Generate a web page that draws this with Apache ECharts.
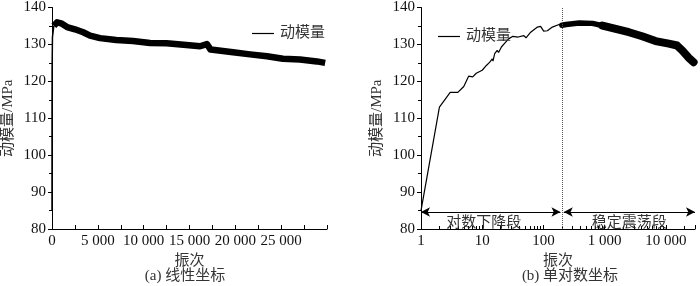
<!DOCTYPE html>
<html>
<head>
<meta charset="utf-8">
<script src="https://cdn.jsdelivr.net/npm/echarts@6/dist/echarts.min.js"></script>
<style>
html, body { margin: 0; padding: 0; background: #fff; }
#chart01 { width: 700px; height: 286px; }
</style>
</head>
<body>
<div id="chart01"></div>
<script>
// y axis ticks (both panels)
var yTicks = [80, 90, 100, 110, 120, 130, 140];
// (a) linear x axis
var linTicks = [0, 5000, 10000, 15000, 20000, 25000, 30000];
// (b) log x axis
var logTicks = [1, 10, 100, 1000, 10000, 30000];

// (a) 线性坐标 : first cycles (thin) and the noisy band afterwards (thick)
var linRise = [[1, 85], [2, 113], [10, 123], [50, 132], [200, 135]];
var linBand = [[200, 135], [550, 136], [1000, 135.7], [1640, 134.7], [2500, 134.1], [3400, 133.3],
    [4150, 132.4], [5240, 131.7], [7000, 131.2], [8840, 130.9], [10700, 130.4], [12500, 130.3],
    [14350, 129.9], [16150, 129.5], [16900, 130.1], [17300, 128.6], [19750, 127.9], [21600, 127.3],
    [23450, 126.8], [25200, 126.1], [27050, 125.9], [28900, 125.4], [29800, 125.0]];

// (b) 单对数坐标
var logRise = [[1, 85], [2, 113], [3, 117], [4, 117], [5, 118.6], [6, 121.4], [7, 121.2], [8, 122.2],
    [10, 123], [11.7, 124.3], [13.3, 125.2], [14.6, 126.1], [15, 125.5], [16, 127.5], [17.6, 128.4],
    [18.5, 127.8], [20.6, 129.3], [23, 130.2], [24.5, 129.8], [27, 131.5], [31.7, 132.2], [38.7, 132],
    [48, 132.4], [52, 131.8], [62, 133.3], [80, 134.7], [90, 134.9], [101, 133.6], [116, 133.7],
    [140, 134.7], [180, 135.4], [200, 135.2]];
var logMid = [[200, 135.2], [234, 135.4], [385, 135.8], [634, 135.7], [922, 135.1]];
var logBand = [[922, 135.1], [1520, 134.2], [2500, 133.3], [4100, 132.2], [6800, 130.9],
    [11200, 130.2], [15300, 129.7], [18500, 128.4], [23600, 126.4], [28500, 125.2]];

var stageSplit = 200;
var arrowY = 84.6;

var FONT = "'Liberation Serif', 'Noto Sans CJK SC', serif";

function spaced(v) {
    var s = String(Math.round(v));
    return s.length > 3 ? s.replace(/\B(?=(\d{3})+(?!\d))/g, ' ') : s;
}

function yAxis(idx) {
    return {
        gridIndex: idx, type: 'value',
        min: yTicks[0], max: yTicks[yTicks.length - 1], interval: 10,
        name: '动模量/MPa', nameLocation: 'middle', nameGap: 36,
        nameTextStyle: { fontFamily: FONT, fontSize: 15, color: '#333' },
        axisLine: { show: true, lineStyle: { color: '#000', width: 1 } },
        axisTick: { show: true, inside: false, length: 4, lineStyle: { color: '#000' } },
        minorTick: { show: true, splitNumber: 2, length: 3, lineStyle: { color: '#000' } },
        splitLine: { show: false },
        axisLabel: { fontFamily: FONT, fontSize: 15, color: '#111', margin: 6 }
    };
}

function legend(x, y) {
    return {
        left: x, top: y, data: ['动模量'], icon: 'rect', itemWidth: 22, itemHeight: 1.2,
        itemStyle: { color: '#000' },
        textStyle: { fontFamily: FONT, fontSize: 15, color: '#333', padding: [0, 0, 0, 1] }
    };
}

var myChart = echarts.init(document.getElementById('chart01'));
var option = {
    animation: false,
    backgroundColor: '#fff',
    grid: [
        { left: 52, top: 7, width: 275, height: 222 },
        { left: 421, top: 7, width: 274, height: 222 }
    ],
    legend: [legend(247, 21), legend(433, 24)],
    xAxis: [
        {
            gridIndex: 0, type: 'value',
            min: linTicks[0], max: linTicks[linTicks.length - 1], interval: 5000,
            name: '振次', nameLocation: 'middle', nameGap: 18,
            nameTextStyle: { fontFamily: FONT, fontSize: 15, color: '#333' },
            axisLine: { lineStyle: { color: '#000', width: 1 } },
            axisTick: { inside: true, length: 4, lineStyle: { color: '#000' } },
            minorTick: { show: true, splitNumber: 2, length: 4, lineStyle: { color: '#000' } },
            splitLine: { show: false },
            axisLabel: { fontFamily: FONT, fontSize: 15, color: '#111', margin: 5,
                showMaxLabel: false, formatter: spaced }
        },
        {
            gridIndex: 1, type: 'log', logBase: 10,
            min: logTicks[0], max: logTicks[logTicks.length - 1],
            name: '振次', nameLocation: 'middle', nameGap: 18,
            nameTextStyle: { fontFamily: FONT, fontSize: 15, color: '#333' },
            axisLine: { lineStyle: { color: '#000', width: 1 } },
            axisTick: { inside: true, length: 4, lineStyle: { color: '#000' } },
            minorTick: { show: true, splitNumber: 9, length: 3, lineStyle: { color: '#000' } },
            splitLine: { show: false },
            axisLabel: { fontFamily: FONT, fontSize: 15, color: '#111', margin: 5,
                showMaxLabel: false, formatter: spaced }
        }
    ],
    yAxis: [yAxis(0), yAxis(1)],
    series: [
        { name: '动模量', type: 'line', xAxisIndex: 0, yAxisIndex: 0, data: linRise,
          symbol: 'none', itemStyle: { color: '#000' }, lineStyle: { color: '#000', width: 1.5 } },
        { name: '动模量', type: 'line', xAxisIndex: 0, yAxisIndex: 0, data: linBand,
          symbol: 'none', itemStyle: { color: '#000' },
          lineStyle: { color: '#000', width: 6.5, join: 'round', cap: 'butt' } },
        { name: '动模量', type: 'line', xAxisIndex: 1, yAxisIndex: 1, data: logRise,
          symbol: 'none', itemStyle: { color: '#000' }, lineStyle: { color: '#000', width: 1.2 },
          markLine: {
              silent: true, animation: false,
              symbol: ['arrow', 'arrow'], symbolSize: [7, 9],
              lineStyle: { color: '#000', width: 1, type: 'solid' },
              label: { show: true, position: 'insideMiddleBottom', distance: 4, formatter: '{b}',
                  fontFamily: FONT, fontSize: 15, color: '#333' },
              data: [
                  [{ coord: [1, arrowY], name: '对数下降段', label: { offset: [-7, 0] } }, { coord: [190, arrowY] }],
                  [{ coord: [215, arrowY], name: '稳定震荡段' }, { coord: [30000, arrowY] }],
                  [{ coord: [stageSplit, 80], symbol: 'none', label: { show: false },
                     lineStyle: { type: 'dotted', color: '#555', width: 1 } },
                   { coord: [stageSplit, 140], symbol: 'none' }]
              ]
          } },
        { name: '动模量', type: 'line', xAxisIndex: 1, yAxisIndex: 1, data: logMid,
          symbol: 'none', itemStyle: { color: '#000' },
          lineStyle: { color: '#000', width: 5.5, join: 'round', cap: 'round' } },
        { name: '动模量', type: 'line', xAxisIndex: 1, yAxisIndex: 1, data: logBand,
          symbol: 'none', itemStyle: { color: '#000' },
          lineStyle: { color: '#000', width: 8, join: 'round', cap: 'round' } }
    ],
    graphic: [
        { type: 'text', x: 185, y: 276,
          style: { text: '(a) 线性坐标', textAlign: 'center', textVerticalAlign: 'middle',
              fontFamily: FONT, fontSize: 15, fill: '#333' } },
        { type: 'text', x: 570, y: 276,
          style: { text: '(b) 单对数坐标', textAlign: 'center', textVerticalAlign: 'middle',
              fontFamily: FONT, fontSize: 15, fill: '#333' } }
    ]
};
if (option && typeof option === "object") {
    myChart.setOption(option, true);
}
</script>
</body>
</html>
